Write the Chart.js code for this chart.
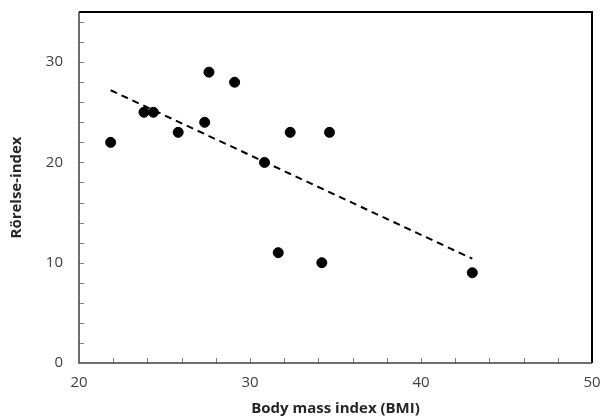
<!DOCTYPE html>
<html>
<head>
<meta charset="utf-8">
<script src="https://cdn.jsdelivr.net/npm/chart.js@4"></script>
<style>
  html, body { margin: 0; padding: 0; background: #fff; }
  #wrap { width: 600px; height: 418px; }
</style>
</head>
<body>
<div id="wrap"><canvas id="bmiChart" width="600" height="418"></canvas></div>
<script>
// Mätpunkter: BMI och rörelse-index
const bmiValues = [21.85, 23.8, 24.35, 25.8, 27.35, 27.6, 29.1, 30.85, 31.65, 32.35, 34.65, 34.2, 43.0];
const rorelseValues = [22, 25, 25, 23, 24, 29, 28, 20, 11, 23, 23, 10, 9];

// Trendlinjens ändpunkter (avlästa)
const trendX = [21.85, 43.0];
const trendY = [27.2, 10.4];

// Axlar
const xMin = 20, xMax = 50;
const yMin = 0, yMax = 35;
const majorStep = 10;
const minorStep = 2;

const points = bmiValues.map((x, i) => ({ x: x, y: rorelseValues[i] }));
const trend = trendX.map((x, i) => ({ x: x, y: trendY[i] }));

const fontFamily = "'Open Sans', sans-serif";

// Rita små tickmarkeringar inåt i diagrammet, samt ramen
const innerTicks = {
    id: 'innerTicks',
    afterDatasetsDraw(chart) {
        const { ctx, chartArea: a, scales } = chart;
        ctx.save();
        ctx.strokeStyle = '#7f7f7f';
        ctx.lineWidth = 1;
        for (let v = xMin + minorStep; v < xMax; v += minorStep) {
            const px = Math.round(scales.x.getPixelForValue(v)) + 0.5;
            ctx.beginPath();
            ctx.moveTo(px, a.bottom);
            ctx.lineTo(px, a.bottom - 5);
            ctx.stroke();
        }
        for (let v = yMin + minorStep; v < yMax; v += minorStep) {
            const py = Math.round(scales.y.getPixelForValue(v)) + 0.5;
            ctx.beginPath();
            ctx.moveTo(a.left, py);
            ctx.lineTo(a.left + 5, py);
            ctx.stroke();
        }
        // ram
        ctx.strokeStyle = '#000';
        ctx.lineWidth = 2;
        ctx.beginPath();
        ctx.moveTo(a.left, a.top);
        ctx.lineTo(a.right, a.top);
        ctx.lineTo(a.right, a.bottom);
        ctx.stroke();
        ctx.strokeStyle = '#404040';
        ctx.lineWidth = 1.5;
        ctx.beginPath();
        ctx.moveTo(a.left, a.top);
        ctx.lineTo(a.left, a.bottom);
        ctx.lineTo(a.right, a.bottom);
        ctx.stroke();
        ctx.restore();
    }
};

const ctx = document.getElementById('bmiChart').getContext('2d');
new Chart(ctx, {
    type: 'scatter',
    data: {
        datasets: [
            {
                label: 'Data',
                data: points,
                backgroundColor: '#000',
                borderColor: '#000',
                pointRadius: 5,
                pointHoverRadius: 5
            },
            {
                label: 'Trend',
                type: 'line',
                data: trend,
                borderColor: '#000',
                borderWidth: 2,
                borderDash: [7, 5],
                pointRadius: 0,
                fill: false
            }
        ]
    },
    options: {
        responsive: false,
        animation: false,
        layout: { padding: { top: 12, right: 8, left: 0, bottom: 0 } },
        plugins: {
            legend: { display: false },
            tooltip: { enabled: false }
        },
        scales: {
            x: {
                type: 'linear',
                min: xMin,
                max: xMax,
                afterFit(scale) {
                    scale.height = 55;
                    scale.paddingLeft = 0;
                    scale.paddingRight = 0;
                },
                grid: { display: false, drawTicks: false },
                border: { display: false },
                ticks: {
                    stepSize: minorStep,
                    autoSkip: false,
                    maxRotation: 0,
                    padding: 11,
                    color: '#404040',
                    font: { family: fontFamily, size: 15 },
                    callback: v => (v % majorStep === 0 ? String(v) : '')
                },
                title: {
                    display: true,
                    text: 'Body mass index (BMI)',
                    color: '#262626',
                    font: { family: fontFamily, size: 15, weight: 'bold' },
                    padding: { top: 0, bottom: 0 }
                }
            },
            y: {
                type: 'linear',
                min: yMin,
                max: yMax,
                afterFit(scale) {
                    scale.width = 79;
                    scale.paddingTop = 0;
                    scale.paddingBottom = 0;
                },
                grid: { display: false, drawTicks: false },
                border: { display: false },
                ticks: {
                    stepSize: minorStep,
                    autoSkip: false,
                    padding: 16,
                    color: '#404040',
                    font: { family: fontFamily, size: 15 },
                    callback: v => (v % majorStep === 0 ? String(v) : '')
                },
                title: {
                    display: true,
                    text: 'Rörelse-index',
                    color: '#262626',
                    font: { family: fontFamily, size: 15, weight: 'bold' },
                    padding: { top: 8, bottom: 0 }
                }
            }
        }
    },
    plugins: [innerTicks]
});
</script>
</body>
</html>
